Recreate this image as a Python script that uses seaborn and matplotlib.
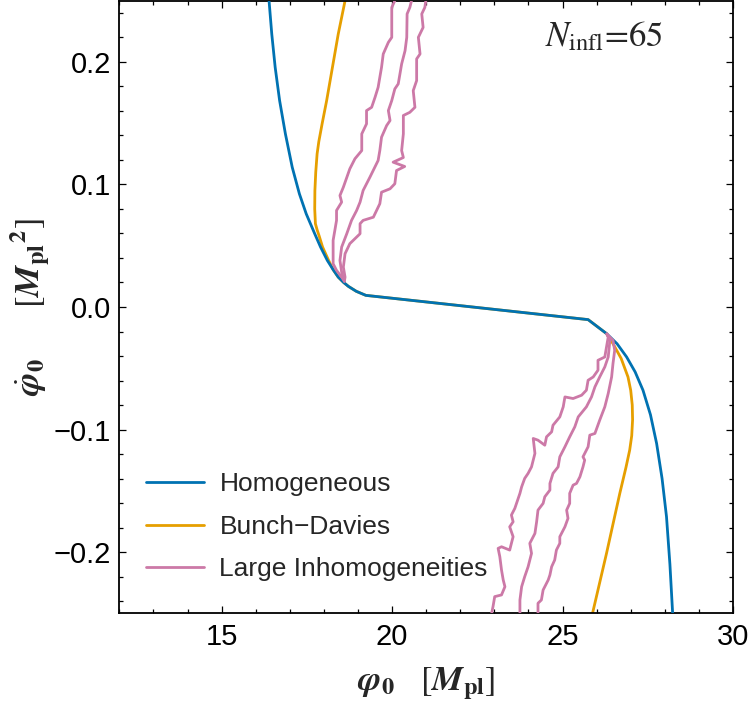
import matplotlib
matplotlib.use("Agg")
import matplotlib.pyplot as plt
import seaborn as sns
from matplotlib.ticker import MultipleLocator

# homogeneous trajectory
hom_x = [16.39, 16.47, 16.57, 16.70, 16.87, 17.07, 17.28, 17.48, 17.73, 17.90, 18.10, 18.27, 18.42, 18.58,
         18.72, 18.95, 19.23,
         25.75, 26.29, 26.60, 26.88, 27.13, 27.36, 27.58, 27.76, 27.92, 28.05, 28.15, 28.23]
hom_y = [0.25, 0.2228, 0.1956, 0.1685, 0.1413, 0.1141, 0.0924, 0.0761, 0.0598, 0.049, 0.0380, 0.0305, 0.0244,
         0.0200, 0.0168, 0.0128, 0.0095,
         -0.0103, -0.0217, -0.030, -0.0408, -0.053, -0.0679, -0.088, -0.1114, -0.14, -0.1712, -0.21, -0.25]

# Bunch-Davies trajectory
bd_x = [18.62, 18.42, 18.08, 17.95, 17.85, 17.80, 17.76, 17.735, 17.73, 17.75, 17.80, 17.86, 17.96, 18.13,
        18.27, 18.42, 18.58, 18.72, 18.95, 19.23,
        25.75, 26.29, 26.48, 26.72, 26.92, 27.00, 27.045, 27.055, 27.03, 26.97, 26.86, 26.68, 26.29, 25.88]
bd_y = [0.25, 0.2228, 0.1685, 0.150, 0.135, 0.125, 0.110, 0.095, 0.080, 0.068, 0.063, 0.058, 0.049, 0.0385,
        0.0305, 0.0244, 0.0200, 0.0168, 0.0128, 0.0095,
        -0.0103, -0.0217, -0.0299, -0.042, -0.0571, -0.068, -0.080, -0.092, -0.105, -0.1168, -0.131, -0.1521,
        -0.2011, -0.25]

# large inhomogeneities, upper branches
inh_a_x = [20.08, 19.99, 19.99, 19.89, 19.74, 19.69, 19.64, 19.59, 19.50, 19.40, 19.25, 19.25, 19.11, 19.11,
           18.91, 18.76, 18.57, 18.47, 18.52, 18.37, 18.37, 18.32, 18.27, 18.27, 18.37, 18.52, 18.60]
inh_a_y = [0.25, 0.2445, 0.2201, 0.2160, 0.2065, 0.1956, 0.1875, 0.1793, 0.1712, 0.1630, 0.1603, 0.1495, 0.1413,
           0.1277, 0.1210, 0.1128, 0.0978, 0.0910, 0.0856, 0.0788, 0.0707, 0.0625, 0.0544, 0.0353, 0.0299, 0.0244,
           0.021]
inh_b_x = [20.57, 20.52, 20.44, 20.43, 20.38, 20.28, 20.23, 20.18, 20.08, 19.99, 19.89, 19.94, 19.84, 19.69,
           19.64, 19.59, 19.35, 19.15, 19.06, 18.96, 18.81, 18.67, 18.52, 18.47, 18.52, 18.60]
inh_b_y = [0.25, 0.2445, 0.2392, 0.2201, 0.2092, 0.1984, 0.1902, 0.1821, 0.1780, 0.1685, 0.1603, 0.1522, 0.1481,
           0.1386, 0.1277, 0.1196, 0.1060, 0.0951, 0.0856, 0.0788, 0.0707, 0.0598, 0.0489, 0.0380, 0.0285, 0.021]
inh_c_x = [20.99, 20.96, 20.87, 20.91, 20.77, 20.82, 20.72, 20.72, 20.62, 20.67, 20.52, 20.33, 20.33, 20.28,
           20.33, 20.03, 20.37, 20.13, 20.08, 19.94, 19.69, 19.64, 19.45, 19.15, 19.06, 19.06, 18.76, 18.62,
           18.57, 18.62, 18.60]
inh_c_y = [0.25, 0.2445, 0.2392, 0.2282, 0.2201, 0.2065, 0.2025, 0.1848, 0.1766, 0.1630, 0.1589, 0.1563, 0.1413,
           0.1277, 0.1220, 0.1182, 0.1147, 0.1114, 0.1006, 0.0965, 0.0937, 0.0843, 0.0733, 0.0707, 0.0680, 0.0598,
           0.0517, 0.0435, 0.0326, 0.0244, 0.021]

# large inhomogeneities, lower branches
inh_d_x = [26.30, 26.34, 26.29, 26.24, 26.04, 26.04, 25.90, 25.75, 25.70, 25.56, 25.31, 25.07, 25.02, 24.92,
           24.72, 24.68, 24.53, 24.48, 24.28, 24.14, 24.19, 24.09, 23.99, 23.89, 23.80, 23.75, 23.60, 23.50,
           23.55, 23.45, 23.55, 23.50, 23.45, 23.21, 23.11, 23.16, 23.21, 23.26, 23.31, 23.21, 23.01, 22.96, 22.92]
inh_d_y = [-0.022, -0.0245, -0.0326, -0.0408, -0.0435, -0.0516, -0.0571, -0.0598, -0.0679, -0.0720, -0.0747,
           -0.0734, -0.0815, -0.0897, -0.0965, -0.1019, -0.1060, -0.1128, -0.1087, -0.1073, -0.1195, -0.1305,
           -0.1358, -0.1399, -0.1468, -0.1521, -0.1644, -0.1698, -0.1753, -0.1794, -0.1875, -0.1929, -0.1984,
           -0.1957, -0.1970, -0.2038, -0.2147, -0.2228, -0.2283, -0.2350, -0.2364, -0.2446, -0.25]
inh_e_x = [26.30, 26.39, 26.34, 26.24, 26.09, 25.95, 25.85, 25.70, 25.46, 25.36, 25.21, 25.07, 24.92, 24.87,
           24.72, 24.63, 24.63, 24.48, 24.43, 24.28, 24.24, 24.19, 24.04, 24.09, 23.99, 23.89, 23.80, 23.75, 23.75]
inh_e_y = [-0.022, -0.0272, -0.0408, -0.0489, -0.0571, -0.0652, -0.0734, -0.0815, -0.0897, -0.0978, -0.1060,
           -0.1141, -0.1223, -0.1305, -0.1358, -0.1440, -0.1494, -0.1549, -0.1603, -0.1658, -0.1753, -0.1848,
           -0.1929, -0.2011, -0.2120, -0.2201, -0.2283, -0.2391, -0.25]
inh_f_x = [26.30, 26.48, 26.53, 26.48, 26.44, 26.34, 26.24, 26.09, 25.95, 25.80, 25.75, 25.60, 25.65, 25.60,
           25.51, 25.41, 25.31, 25.21, 25.21, 25.12, 25.16, 25.07, 24.92, 24.92, 24.82, 24.77, 24.68, 24.63,
           24.58, 24.43, 24.38, 24.28, 24.28]
inh_f_y = [-0.022, -0.0272, -0.0353, -0.0462, -0.0571, -0.0706, -0.0815, -0.0924, -0.1032, -0.1046, -0.1141,
           -0.1223, -0.1250, -0.1305, -0.1386, -0.1440, -0.1454, -0.1521, -0.1603, -0.1658, -0.1725, -0.1794,
           -0.1875, -0.1929, -0.1984, -0.2065, -0.2120, -0.2187, -0.2228, -0.2310, -0.2391, -0.2418, -0.25]

labels = ["Homogeneous", "Bunch\u2212Davies", "Large Inhomogeneities"]
colors = ["#0072B2", "#E69F00", "#CC79A7"]

sns.set_theme(style="ticks")
plt.rcParams["font.family"] = ["Liberation Sans", "DejaVu Sans"]
plt.rcParams["mathtext.fontset"] = "stix"

fig = plt.figure(figsize=(7.5, 7.03), dpi=100)
ax = fig.add_axes([0.1592, 0.1276, 0.8181, 0.8714])

lw = 2.0
sns.lineplot(x=hom_x, y=hom_y, sort=False, estimator=None, color=colors[0], lw=lw,
             label=labels[0], ax=ax, zorder=3)
sns.lineplot(x=bd_x, y=bd_y, sort=False, estimator=None, color=colors[1], lw=lw,
             label=labels[1], ax=ax, zorder=2)
pink = [(inh_a_x, inh_a_y), (inh_b_x, inh_b_y), (inh_c_x, inh_c_y),
        (inh_d_x, inh_d_y), (inh_e_x, inh_e_y), (inh_f_x, inh_f_y)]
for i, (px, py) in enumerate(pink):
    sns.lineplot(x=px, y=py, sort=False, estimator=None, color=colors[2], lw=lw,
                 label=labels[2] if i == 0 else None, legend=(i == 0), ax=ax, zorder=4)

ax.set_xlim(12, 30)
ax.set_ylim(-0.25, 0.25)
ax.xaxis.set_major_locator(MultipleLocator(5))
ax.xaxis.set_minor_locator(MultipleLocator(1))
ax.yaxis.set_major_locator(MultipleLocator(0.1))
ax.yaxis.set_minor_locator(MultipleLocator(0.02))
ax.tick_params(which="both", direction="in", top=True, right=True, width=0.9, colors="black")
ax.tick_params(which="major", length=5, labelsize=21)
ax.tick_params(which="minor", length=3)
ax.tick_params(axis="x", which="major", pad=7)
ax.tick_params(axis="y", which="major", pad=6)
for s in ax.spines.values():
    s.set_linewidth(1.3)
    s.set_color("black")

ax.set_xlabel(r"$\mathbfit{\varphi}_{\mathbf{0}}\quad[\mathbfit{M}_{\mathbf{pl}}]$", fontsize=25, labelpad=10)
ax.set_ylabel(r"$\dot{\mathbfit{\varphi}}_{\mathbf{0}}\qquad[{\mathbfit{M}_{\mathbf{pl}}}^{\mathbf{2}}]$",
              fontsize=25, labelpad=1)

ax.text(24.48, 0.2125, r"$N_{\mathrm{infl}}$=65", fontsize=25, family="STIXGeneral", va="baseline")

ax.legend(loc="center left", bbox_to_anchor=(0.044, 0.141), frameon=False, fontsize=19,
          handlelength=2.2, handletextpad=0.57, labelspacing=0.7, borderpad=0, borderaxespad=0)

fig.savefig("out.png", dpi=100)
